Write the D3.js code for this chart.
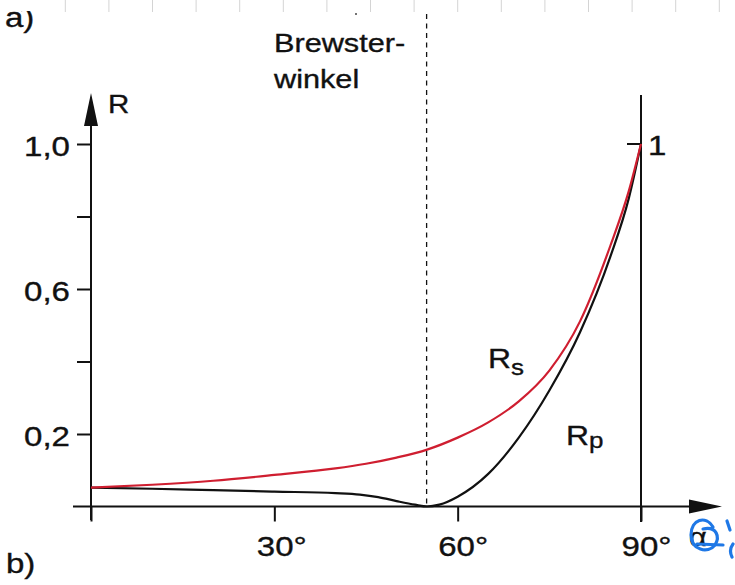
<!DOCTYPE html>
<html>
<head>
<meta charset="utf-8">
<script src="https://cdn.jsdelivr.net/npm/d3@7"></script>
<style>
	html, body { margin: 0; padding: 0; background: #fff; }
	svg { display: block; }
	text { font-family: "Liberation Sans", Arial, Helvetica, sans-serif; fill: #111; stroke: #111; stroke-width: 0.35px; }
</style>
</head>
<body>
<svg id="chart" width="735" height="585"></svg>
<script>
//data
var rsAngles = [0, 10, 20, 30, 40, 45, 50, 55, 60, 65, 70, 75, 80, 85, 88, 90],
	rsValues = [0.052, 0.06, 0.071, 0.087, 0.105, 0.118, 0.135, 0.157, 0.19, 0.232, 0.29, 0.375, 0.51, 0.72, 0.87, 1.0],
	rpAngles = [0, 10, 20, 30, 40, 44, 47, 50, 53, 55, 57, 60, 65, 70, 75, 80, 85, 88, 90],
	rpValues = [0.052, 0.049, 0.045, 0.041, 0.037, 0.033, 0.026, 0.015, 0.005, 0.0, 0.005, 0.027, 0.09, 0.19, 0.32, 0.48, 0.69, 0.85, 1.0],
	brewsterAngle = 55,
	yTicks = [0.2, 0.4, 0.6, 0.8, 1.0],
	yLabeled = [0.2, 0.6, 1.0],
	xTicks = [0, 30, 60, 90],
	xLabeled = [30, 60, 90];

(function() {
	'use strict';

	var svg = d3.select('#chart'),
		SX = 1.18, //the scan is stretched sideways
		ink = '#111',
		red = '#cf1e30',
		x = d3.scaleLinear().domain([0, 90]).range([91, 641]),
		y = d3.scaleLinear().domain([0, 1]).range([506.5, 144]);

	function addText(parent, str, tx, ty, size, anchor) {
		return parent.append('text')
			.attr('transform', 'translate(' + tx + ',' + ty + ') scale(' + SX + ',1)')
			.attr('font-size', size)
			.attr('text-anchor', anchor || 'start')
			.text(str);
	}

	function toPoints(angles, values) {
		return angles.map(function(a, i) {
			return [a, values[i]];
		});
	}

	//ruler marks along the top edge
	svg.append('g')
		.selectAll('line')
		.data(d3.range(21.7, 735, 43.6))
		.join('line')
		.attr('x1', function(d) { return d; })
		.attr('x2', function(d) { return d; })
		.attr('y1', 0)
		.attr('y2', 12)
		.attr('stroke', '#d4d4d4')
		.attr('stroke-width', 1);

	addText(svg, 'a)', 5, 27, 28);
	svg.append('rect').attr('x', 0).attr('y', 0).attr('width', 60).attr('height', 11).attr('fill', '#fff');
	svg.append('circle').attr('cx', 356).attr('cy', 14).attr('r', 1).attr('fill', '#444');
	addText(svg, 'b)', 6, 573, 28);

	//brewster line
	svg.append('line')
		.attr('x1', x(brewsterAngle) - 0.5)
		.attr('x2', x(brewsterAngle) - 0.5)
		.attr('y1', 14)
		.attr('y2', y(0))
		.attr('stroke', ink)
		.attr('stroke-width', 1.3)
		.attr('stroke-dasharray', '5,4.5');

	addText(svg, 'Brewster-', 274, 52, 26);
	addText(svg, 'winkel', 274, 88, 26);

	//axes
	var yAxis = d3.axisLeft(y)
		.tickValues(yTicks)
		.tickSize(14)
		.tickFormat(function(d) {
			return yLabeled.indexOf(d) === -1 ? '' : d3.format('.1f')(d).replace('.', ',');
		});

	var gy = svg.append('g').attr('transform', 'translate(' + x(0) + ',0)').call(yAxis);
	gy.select('.domain').remove();
	gy.selectAll('line').attr('stroke', ink).attr('stroke-width', 2);
	gy.selectAll('text')
		.attr('x', null)
		.attr('dy', null)
		.attr('fill', ink)
		.attr('font-size', 28)
		.attr('font-family', null)
		.attr('transform', 'translate(-21,11) scale(' + SX + ',1)');

	var xAxis = d3.axisBottom(x)
		.tickValues(xTicks)
		.tickSize(15)
		.tickFormat(function(d) {
			return xLabeled.indexOf(d) === -1 ? '' : d + '°';
		});

	var gx = svg.append('g').attr('transform', 'translate(0,' + y(0) + ')').call(xAxis);
	gx.select('.domain').remove();
	gx.selectAll('line').attr('stroke', ink).attr('stroke-width', 2);
	gx.selectAll('text')
		.attr('y', null)
		.attr('dy', null)
		.attr('fill', ink)
		.attr('font-size', 28)
		.attr('font-family', null)
		.attr('transform', function(d) {
			return 'translate(' + (d === 30 ? 7 : 5) + ',49) scale(' + SX + ',1)';
		});

	svg.append('line')
		.attr('x1', x(0)).attr('x2', x(0))
		.attr('y1', 120).attr('y2', 520)
		.attr('stroke', ink).attr('stroke-width', 2);
	svg.append('path')
		.attr('d', 'M' + x(0) + ',93 L' + (x(0) - 7) + ',126 L' + (x(0) + 7) + ',126 Z')
		.attr('fill', ink);
	addText(svg, 'R', 108, 113, 25);

	svg.append('line')
		.attr('x1', 73).attr('x2', 695)
		.attr('y1', y(0)).attr('y2', y(0))
		.attr('stroke', ink).attr('stroke-width', 2);
	svg.append('path')
		.attr('d', 'M722,' + y(0) + ' L689,' + (y(0) - 7) + ' L689,' + (y(0) + 7) + ' Z')
		.attr('fill', ink);

	//90 degree line and the 1 mark
	svg.append('line')
		.attr('x1', x(90)).attr('x2', x(90))
		.attr('y1', 95).attr('y2', 522)
		.attr('stroke', ink).attr('stroke-width', 2);
	svg.append('line')
		.attr('x1', x(90) - 14).attr('x2', x(90))
		.attr('y1', y(1)).attr('y2', y(1))
		.attr('stroke', ink).attr('stroke-width', 2);
	addText(svg, '1', 648, 155, 28);

	//curves
	var line = d3.line()
		.x(function(d) { return x(d[0]); })
		.y(function(d) { return y(d[1]); })
		.curve(d3.curveMonotoneX);

	svg.append('path')
		.attr('d', line(toPoints(rpAngles, rpValues)))
		.attr('fill', 'none')
		.attr('stroke', ink)
		.attr('stroke-width', 2.2);

	svg.append('path')
		.attr('d', line(toPoints(rsAngles, rsValues)))
		.attr('fill', 'none')
		.attr('stroke', red)
		.attr('stroke-width', 2.2);

	var rs = addText(svg, 'R', 488, 368, 27);
	rs.append('tspan').attr('font-size', 22).attr('dy', 7).text('s');
	var rp = addText(svg, 'R', 566, 445, 27);
	rp.append('tspan').attr('font-size', 22).attr('dy', 3).text('p');

	//axis name, half covered by the pen mark
	addText(svg, 'α', 689, 546, 26);

	var pen = svg.append('g')
		.attr('fill', 'none')
		.attr('stroke', '#1f78e6')
		.attr('stroke-width', 3.2)
		.attr('stroke-linecap', 'round');
	pen.append('path').attr('d', 'M713,527 C706,515 691,519 691,535 C691,550 708,554 715,545 C720,537 717,526 703,529');
	pen.append('path').attr('d', 'M697,544 L723,545');
	pen.append('path').attr('d', 'M727,521 L730,530');
	pen.append('path').attr('d', 'M733,544 C730,548 730,553 732,557');
})();
</script>
</body>
</html>
